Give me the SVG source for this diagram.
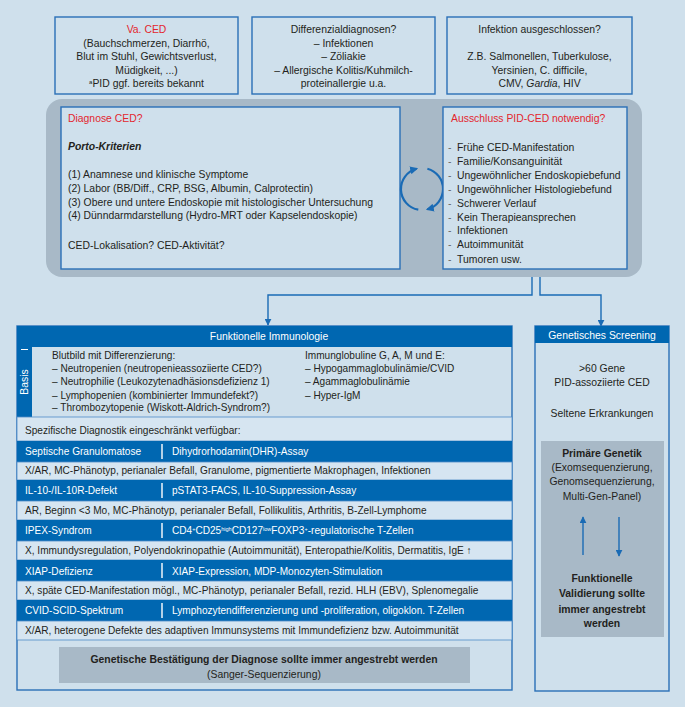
<svg xmlns="http://www.w3.org/2000/svg" width="685" height="707" viewBox="0 0 685 707">
<defs>
<style>
text{font-family:"Liberation Sans",Arial,sans-serif;font-size:10.4px;fill:#231f20}
.t{font-size:10.1px}
.c{text-anchor:middle}
.red{fill:#e3262e}
.w{fill:#ffffff}
.b{font-weight:bold}
.box{fill:#cfe0ec;stroke:#2a6fb7;stroke-width:1.4}
.dark{fill:#0067b1}
.light{fill:#d6e5f1;stroke:#4f8cc9;stroke-width:0.8}
.gray{fill:#a8b9c7}
.sep{stroke:#ffffff;stroke-width:1.4}
.con{fill:none;stroke:#1a6bb5;stroke-width:1.4}
.cyc{fill:none;stroke:#1a6bb5;stroke-width:2.2}
.dash{fill:#666}
</style>
<marker id="ah" viewBox="0 0 10 10" refX="9" refY="5" markerWidth="7" markerHeight="7" markerUnits="userSpaceOnUse" orient="auto"><path d="M0,0 L10,5 L0,10 z" fill="#1a6bb5"/></marker>
<marker id="ac" viewBox="0 0 10 10" refX="8" refY="5" markerWidth="8" markerHeight="8" markerUnits="userSpaceOnUse" orient="auto"><path d="M0,0 L10,5 L0,10 z" fill="#1a6bb5"/></marker>
</defs>
<rect width="685" height="707" fill="#cfe0ec"/>

<g id="va-ced">
<rect class="box" x="55" y="17" width="183" height="77"/>
<text class="c red" x="146.5" y="33">Va. CED</text>
<text class="c" x="146.5" y="47">(Bauchschmerzen, Diarrhö,</text>
<text class="c" x="146.5" y="60">Blut im Stuhl, Gewichtsverlust,</text>
<text class="c" x="146.5" y="74">Müdigkeit, ...)</text>
<text class="c" x="146.5" y="87"><tspan font-size="6" dy="-3">a</tspan><tspan dy="3">PID ggf. bereits bekannt</tspan></text>
</g>

<g id="differenzial">
<rect class="box" x="252" y="17" width="183" height="77"/>
<text class="c" x="343.5" y="33">Differenzialdiagnosen?</text>
<text class="c" x="343.5" y="47">– Infektionen</text>
<text class="c" x="343.5" y="60">– Zöliakie</text>
<text class="c" x="343.5" y="74">– Allergische Kolitis/Kuhmilch-</text>
<text class="c" x="343.5" y="87">proteinallergie u.a.</text>
</g>

<g id="infektion">
<rect class="box" x="447" y="17" width="185" height="77"/>
<text class="c" x="539.5" y="33">Infektion ausgeschlossen?</text>
<text class="c" x="539.5" y="60">Z.B. Salmonellen, Tuberkulose,</text>
<text class="c" x="539.5" y="74">Yersinien, C. difficile,</text>
<text class="c" x="539.5" y="87">CMV, <tspan font-style="italic">Gardia</tspan>, HIV</text>
</g>

<g id="diagnose-block">
<rect class="gray" x="46" y="99" width="596" height="178" rx="16"/>
</g>

<g id="diagnose-ced">
<rect class="box" x="61" y="107" width="339" height="162"/>
<text class="red" x="68" y="122">Diagnose CED?</text>
<text x="68" y="150" font-weight="bold" font-style="italic">Porto-Kriterien</text>
<text x="68" y="178">(1) Anamnese und klinische Symptome</text>
<text x="68" y="192">(2) Labor (BB/Diff., CRP, BSG, Albumin, Calprotectin)</text>
<text x="68" y="206">(3) Obere und untere Endoskopie mit histologischer Untersuchung</text>
<text x="68" y="219">(4) Dünndarmdarstellung (Hydro-MRT oder Kapselendoskopie)</text>
<text x="68" y="249">CED-Lokalisation? CED-Aktivität?</text>
</g>

<g id="zyklus">
<path class="cyc" d="M418.3,209.7 A21,21 0 0 1 416.6,168.7" marker-end="url(#ac)"/>
<path class="cyc" d="M427.4,168.7 A21,21 0 0 1 427.4,209.3" marker-end="url(#ac)"/>
</g>

<g id="ausschluss">
<rect class="box" x="443" y="107" width="184" height="162"/>
<text class="red" x="451" y="122">Ausschluss PID-CED notwendig?</text>
<g>
<text class="dash" x="448" y="151">-</text><text class="dash" x="448" y="165">-</text><text class="dash" x="448" y="179">-</text>
<text class="dash" x="448" y="193">-</text><text class="dash" x="448" y="207">-</text><text class="dash" x="448" y="221">-</text>
<text class="dash" x="448" y="234">-</text><text class="dash" x="448" y="248">-</text><text class="dash" x="448" y="263">-</text>
</g>
<text x="457" y="151">Frühe CED-Manifestation</text>
<text x="457" y="165">Familie/Konsanguinität</text>
<text x="457" y="179">Ungewöhnlicher Endoskopiebefund</text>
<text x="457" y="193">Ungewöhnlicher Histologiebefund</text>
<text x="457" y="207">Schwerer Verlauf</text>
<text x="457" y="221">Kein Therapieansprechen</text>
<text x="457" y="234">Infektionen</text>
<text x="457" y="248">Autoimmunität</text>
<text x="457" y="263">Tumoren usw.</text>
</g>

<g id="connectors">
<polyline class="con" points="532,277 532,295 268,295 268,325" marker-end="url(#ah)"/>
<polyline class="con" points="540,277 540,295 601,295 601,326" marker-end="url(#ah)"/>
</g>

<g id="funktionelle-immunologie">
<rect class="box" x="17" y="326" width="495" height="364" fill="#d3e3ef"/>
<rect class="dark" x="17" y="326" width="495" height="21"/>
<text class="c w" x="269" y="340">Funktionelle Immunologie</text>
<rect class="dark" x="17" y="347" width="15" height="70"/>
<line x1="21" y1="349.5" x2="28" y2="349.5" stroke="#ffffff" stroke-width="1"/>
<text class="c w" transform="translate(28,382) rotate(-90)" font-size="8.5">Basis</text>
<text class="t" x="52" y="359">Blutbild mit Differenzierung:</text>
<text class="t" x="52" y="372">– Neutropenien (neutropenieassoziierte CED?)</text>
<text class="t" x="52" y="385">– Neutrophilie (Leukozytenadhäsionsdefizienz 1)</text>
<text class="t" x="52" y="399">– Lymphopenien (kombinierter Immundefekt?)</text>
<text class="t" x="52" y="411">– Thrombozytopenie (Wiskott-Aldrich-Syndrom?)</text>
<text class="t" x="305" y="359">Immunglobuline G, A, M und E:</text>
<text class="t" x="305" y="372">– Hypogammaglobulinämie/CVID</text>
<text class="t" x="305" y="385">– Agammaglobulinämie</text>
<text class="t" x="305" y="399">– Hyper-IgM</text>

<rect class="light" x="17" y="417" width="495" height="24"/>
<text class="t" x="25" y="434">Spezifische Diagnostik eingeschränkt verfügbar:</text>

<rect class="dark" x="17" y="441" width="495" height="21"/>
<line class="sep" x1="162" y1="444" x2="162" y2="459"/>
<text class="t w" x="25" y="455">Septische Granulomatose</text>
<text class="t w" x="172" y="455">Dihydrorhodamin(DHR)-Assay</text>
<rect class="light" x="17" y="462" width="495" height="18"/>
<text class="t" x="25" y="474">X/AR, MC-Phänotyp, perianaler Befall, Granulome, pigmentierte Makrophagen, Infektionen</text>

<rect class="dark" x="17" y="480" width="495" height="21"/>
<line class="sep" x1="162" y1="483" x2="162" y2="498"/>
<text class="t w" x="25" y="494">IL-10-/IL-10R-Defekt</text>
<text class="t w" x="172" y="494">pSTAT3-FACS, IL-10-Suppression-Assay</text>
<rect class="light" x="17" y="501" width="495" height="19"/>
<text class="t" x="25" y="514">AR, Beginn &lt;3 Mo, MC-Phänotyp, perianaler Befall, Follikulitis, Arthritis, B-Zell-Lymphome</text>

<rect class="dark" x="17" y="520" width="495" height="21"/>
<line class="sep" x1="162" y1="523" x2="162" y2="538"/>
<text class="t w" x="25" y="534">IPEX-Syndrom</text>
<text class="t w" x="172" y="534">CD4<tspan font-size="5.5" dy="-3">+</tspan><tspan dy="3">CD25</tspan><tspan font-size="5.5" dy="-3">high</tspan><tspan dy="3">CD127</tspan><tspan font-size="5.5" dy="-3">low</tspan><tspan dy="3">FOXP3</tspan><tspan font-size="5.5" dy="-3">+</tspan><tspan dy="3">-regulatorische T-Zellen</tspan></text>
<rect class="light" x="17" y="541" width="495" height="19"/>
<text class="t" x="25" y="554">X, Immundysregulation, Polyendokrinopathie (Autoimmunität), Enteropathie/Kolitis, Dermatitis, IgE ↑</text>

<rect class="dark" x="17" y="560" width="495" height="21"/>
<line class="sep" x1="162" y1="563" x2="162" y2="578"/>
<text class="t w" x="25" y="575">XIAP-Defizienz</text>
<text class="t w" x="172" y="575">XIAP-Expression, MDP-Monozyten-Stimulation</text>
<rect class="light" x="17" y="581" width="495" height="19"/>
<text class="t" x="25" y="594">X, späte CED-Manifestation mögl., MC-Phänotyp, perianaler Befall, rezid. HLH (EBV), Splenomegalie</text>

<rect class="dark" x="17" y="600" width="495" height="21"/>
<line class="sep" x1="162" y1="603" x2="162" y2="618"/>
<text class="t w" x="25" y="614">CVID-SCID-Spektrum</text>
<text class="t w" x="172" y="614">Lymphozytendifferenzierung und -proliferation, oligoklon. T-Zellen</text>
<rect class="light" x="17" y="621" width="495" height="19"/>
<text class="t" x="25" y="634">X/AR, heterogene Defekte des adaptiven Immunsystems mit Immundefizienz bzw. Autoimmunität</text>

<rect class="gray" x="59" y="647" width="411" height="36"/>
<text class="c b" x="264" y="663">Genetische Bestätigung der Diagnose sollte immer angestrebt werden</text>
<text class="c" x="264" y="678">(Sanger-Sequenzierung)</text>
</g>

<g id="genetisches-screening">
<rect class="box" x="535" y="326" width="134" height="365"/>
<rect class="dark" x="535" y="326" width="134" height="17"/>
<text class="c w" x="602" y="339">Genetisches Screening</text>
<text class="c" x="602" y="372">&gt;60 Gene</text>
<text class="c" x="602" y="386">PID-assoziierte CED</text>
<text class="c" x="602" y="417">Seltene Erkrankungen</text>
<rect class="gray" x="541" y="441" width="123" height="196"/>
<text class="c b" x="602" y="457">Primäre Genetik</text>
<text class="c" x="602" y="471">(Exomsequenzierung,</text>
<text class="c" x="602" y="485">Genomsequenzierung,</text>
<text class="c" x="602" y="500">Multi-Gen-Panel)</text>
<line class="con" x1="583" y1="555" x2="583" y2="517" marker-end="url(#ah)"/>
<line class="con" x1="619" y1="517" x2="619" y2="556" marker-end="url(#ah)"/>
<text class="c b" x="602" y="582">Funktionelle</text>
<text class="c b" x="602" y="597">Validierung sollte</text>
<text class="c b" x="602" y="613">immer angestrebt</text>
<text class="c b" x="602" y="627">werden</text>
</g>
</svg>
